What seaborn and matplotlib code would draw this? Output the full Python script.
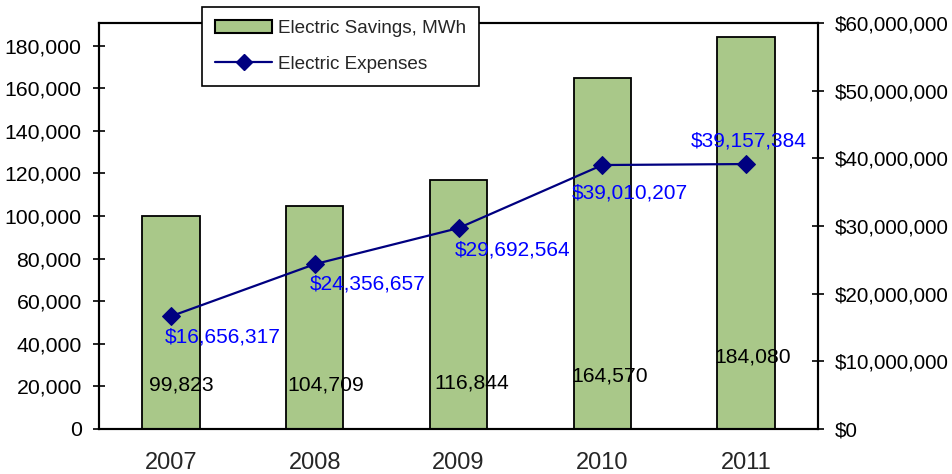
import matplotlib
matplotlib.use("Agg")
import matplotlib.pyplot as plt
import seaborn as sns
import numpy as np
import pandas as pd
from matplotlib.patches import Patch
from matplotlib.lines import Line2D
from matplotlib.ticker import FuncFormatter, FixedLocator

years = ["2007", "2008", "2009", "2010", "2011"]
savings_mwh = [99823, 104709, 116844, 164570, 184080]
expenses = [16656317, 24356657, 29692564, 39010207, 39157384]
savings_labels = ["99,823", "104,709", "116,844", "164,570", "184,080"]
expense_labels = ["$16,656,317", "$24,356,657", "$29,692,564", "$39,010,207", "$39,157,384"]

sns.set_theme(style="white")
plt.rcParams["font.family"] = ["Liberation Sans", "DejaVu Sans"]

fig = plt.figure(figsize=(9.52, 4.74), dpi=100)
ax = fig.add_axes([99/952, 1-429/474, 719/952, 406/474])

df = pd.DataFrame({"year": years, "savings": savings_mwh})
sns.barplot(data=df, x="year", y="savings", ax=ax, color="#A9C889", saturation=1,
            width=0.4, edgecolor="black", linewidth=1.3, zorder=2)
ax.set_xlim(-0.5, 4.5)
ax.set_ylim(0, 190600)
ax.set_xlabel("")
ax.set_ylabel("")
ax.yaxis.set_major_locator(FixedLocator(np.arange(0, 180001, 20000)))
ax.yaxis.set_major_formatter(FuncFormatter(lambda v, p: f"{int(v):,}"))
ax.tick_params(axis="y", direction="inout", length=9, width=1.2, labelsize=15.3, pad=8, colors="black")
ax.tick_params(axis="x", which="major", length=0, labelsize=17, pad=16.5)
ax.xaxis.set_minor_locator(FixedLocator(np.arange(-0.5, 5, 1.0)))
ax.tick_params(axis="x", which="minor", direction="inout", length=11, width=1.2)
for s in ax.spines.values():
    s.set_color("black")
    s.set_linewidth(1.5)

# bar value labels
bar_dx = [10, 11, 13, 7, 7]
bar_dy = [44, 44, 46, 53, 72]
for i, lab in enumerate(savings_labels):
    ax.annotate(lab, xy=(i, 0), xytext=(bar_dx[i], bar_dy[i]), textcoords="offset pixels",
                ha="center", va="center", fontsize=15.2, color="black", zorder=5)

ax2 = ax.twinx()
xpos = np.arange(len(years))
sns.lineplot(x=xpos, y=expenses, ax=ax2, color="#000080", linewidth=1.6, marker="D",
             markersize=9, markeredgecolor="#000080", markerfacecolor="#000080", zorder=3)
ax2.set_ylim(0, 60000000)
ax2.yaxis.set_major_locator(FixedLocator(np.arange(0, 60000001, 10000000)))
ax2.yaxis.set_major_formatter(FuncFormatter(lambda v, p: f"${int(v):,}"))
ax2.tick_params(axis="y", direction="inout", length=9, width=1.2, labelsize=14.9, pad=7.5, colors="black")
ax2.grid(False)
ax.grid(False)
for s in ax2.spines.values():
    s.set_color("black")
    s.set_linewidth(1.5)

exp_dx = [52, 53, 54, 28, 3]
exp_dy = [-21, -20, -22, -28, 23]
for i, lab in enumerate(expense_labels):
    ax2.annotate(lab, xy=(xpos[i], expenses[i]), xytext=(exp_dx[i], exp_dy[i]),
                 textcoords="offset pixels", ha="center", va="center", fontsize=15,
                 color="#0000FF", zorder=6)

handles = [Patch(facecolor="#A9C889", edgecolor="black", linewidth=1.5),
           Line2D([0], [0], color="#000080", linewidth=1.6, marker="D", markersize=8)]
leg = ax2.legend(handles, ["Electric Savings, MWh", "Electric Expenses"],
                 loc="upper left", bbox_to_anchor=((202-99)/719, (429-7)/406),
                 fontsize=13.6, frameon=True, fancybox=False, framealpha=1,
                 edgecolor="black", borderpad=0.7, labelspacing=0.95,
                 handlelength=3.0, handletextpad=0.3, borderaxespad=0)
leg.get_frame().set_linewidth(1.2)
leg.set_zorder(10)

fig.savefig("out.png", dpi=100)
